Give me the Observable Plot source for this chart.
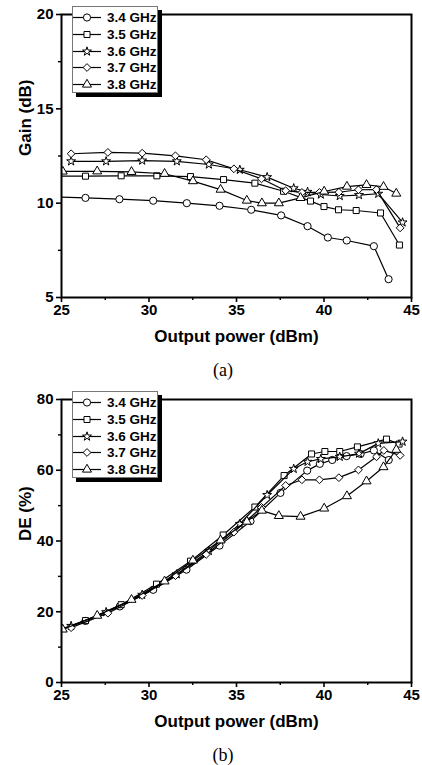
<!DOCTYPE html>
<html><head><meta charset="utf-8">
<script src="https://cdn.jsdelivr.net/npm/d3@7"></script>
<script src="https://cdn.jsdelivr.net/npm/@observablehq/plot@0.6"></script>
<style>
body{margin:0;background:#fff;}
#wrap{position:relative;width:422px;height:765px;font-family:"Liberation Sans",Arial,sans-serif;}
.panel{position:absolute;left:0;}
.panel text{font-family:"Liberation Sans",Arial,sans-serif;font-weight:bold;}
.cap{position:absolute;width:446px;left:0;text-align:center;font-family:"Liberation Serif","Times New Roman",serif;font-size:18px;line-height:20px;}
.legend{position:absolute;background:#fff;border:1px solid #777;box-shadow:4px 4px 0 #000;box-sizing:border-box;}
.legend .row{position:absolute;left:0;height:17px;display:flex;align-items:center;white-space:nowrap;}
.legend span{font-weight:bold;font-size:13.5px;margin-left:5px;font-family:"Liberation Sans",Arial,sans-serif;}
</style></head><body><div id="wrap"></div>
<script>
// ---------- data ----------
const seriesNames = ["3.4 GHz", "3.5 GHz", "3.6 GHz", "3.7 GHz", "3.8 GHz"];
const xTicks = [25, 30, 35, 40, 45];
const xMinor = [27.5, 32.5, 37.5, 42.5];
const gainTicks = [5, 10, 15, 20];
const gainMinor = [7.5, 12.5, 17.5];
const deTicks = [0, 20, 40, 60, 80];
const deMinor = [10, 30, 50, 70];

// (a) Gain (dB) vs output power (dBm)
const g34x = [24.6, 26.37, 28.31, 30.24, 32.16, 34.03, 35.84, 37.55, 39.06, 40.22, 41.30, 42.85, 43.69];
const g34y = [10.33, 10.28, 10.21, 10.13, 10.0, 9.86, 9.65, 9.35, 8.78, 8.18, 8.02, 7.72, 5.97];
const g35x = [24.6, 26.37, 28.41, 30.45, 32.37, 34.26, 36.05, 37.69, 39.23, 40.0, 40.83, 41.84, 43.23, 44.31];
const g35y = [11.43, 11.43, 11.45, 11.45, 11.41, 11.25, 11.06, 10.63, 10.11, 9.82, 9.65, 9.61, 9.48, 7.78];
const g36x = [25.55, 27.55, 29.61, 31.59, 33.42, 35.19, 36.75, 38.27, 39.06, 39.82, 40.90, 42.0, 43.10, 44.49];
const g36y = [12.22, 12.22, 12.26, 12.22, 12.05, 11.77, 11.38, 10.79, 10.60, 10.46, 10.38, 10.43, 10.50, 8.98];
const g37x = [25.55, 27.65, 29.61, 31.51, 33.27, 34.85, 36.43, 37.81, 38.74, 39.74, 40.85, 41.97, 43.0, 44.35];
const g37y = [12.62, 12.69, 12.65, 12.51, 12.30, 11.82, 11.29, 10.66, 10.57, 10.57, 10.58, 10.71, 10.72, 8.69];
const g38x = [25.07, 27.04, 29.0, 30.89, 32.51, 34.09, 35.59, 36.45, 37.42, 38.66, 40.01, 41.31, 42.43, 43.40, 44.13];
const g38y = [11.68, 11.69, 11.66, 11.56, 11.17, 10.72, 10.14, 10.0, 10.0, 10.28, 10.62, 10.88, 10.97, 10.87, 10.51];

// (b) DE (%) vs output power (dBm)
const d34x = [24.6, 26.37, 28.33, 30.24, 32.14, 34.03, 35.8, 37.51, 39.04, 39.76, 40.47, 41.29, 42.09, 42.85, 43.70];
const d34y = [14.3, 17.4, 21.5, 26.2, 31.9, 38.7, 45.6, 53.6, 59.9, 61.8, 62.9, 64.0, 64.6, 65.6, 62.9];
const d35x = [24.6, 26.37, 28.41, 30.43, 32.37, 34.24, 36.05, 37.72, 39.29, 40.05, 40.90, 41.91, 43.57, 44.29];
const d35y = [14.4, 17.5, 22.0, 27.8, 34.3, 41.7, 49.6, 58.5, 64.6, 65.3, 65.3, 66.6, 68.8, 67.4];
const d36x = [25.55, 27.55, 29.61, 31.59, 33.42, 35.19, 36.75, 38.27, 39.06, 39.82, 40.90, 42.0, 43.10, 44.49];
const d36y = [16.0, 19.9, 24.8, 30.6, 37.2, 44.8, 53.0, 60.4, 62.4, 63.2, 63.8, 64.7, 67.6, 68.1];
const d37x = [25.55, 27.65, 29.61, 31.51, 33.27, 34.85, 36.43, 37.81, 38.74, 39.74, 40.85, 41.97, 43.0, 43.42, 44.35];
const d37y = [15.5, 19.6, 24.6, 30.2, 36.2, 42.5, 49.5, 55.7, 57.3, 57.3, 57.9, 60.1, 63.8, 65.6, 64.2];
const d38x = [25.07, 27.04, 29.0, 30.89, 32.51, 34.09, 35.59, 36.45, 37.42, 38.66, 40.01, 41.31, 42.43, 43.40, 44.13];
const d38y = [15.0, 18.9, 23.4, 28.6, 34.5, 40.2, 45.5, 48.6, 47.1, 46.9, 49.2, 52.7, 56.9, 60.9, 65.8];

// ---------- styling ----------
const symbols = ["circle", "square", "star", "diamond2", "triangle"];
const d3symbols = [d3.symbolCircle, d3.symbolSquare, d3.symbolStar, d3.symbolDiamond2, d3.symbolTriangle];
const radii = [3.6, 3.4, 2.8, 3.5, 3.35];

const wrap = document.getElementById("wrap");

function zip(xs, ys) { return xs.map((v, i) => ({x: v, y: ys[i]})); }

function makePanel(top, xsList, ysList, yDomain, yTicks, yMinor, yLabel, caption) {
  const marks = [];
  xsList.forEach((xs, k) => {
    const data = zip(xs, ysList[k]);
    marks.push(Plot.line(data, {x: "x", y: "y", stroke: "#000", strokeWidth: 1.2, clip: true}));
    marks.push(Plot.dot(data, {x: "x", y: "y", symbol: symbols[k], r: radii[k], fill: "#fff", stroke: "#000", strokeWidth: 1, clip: true}));
  });
  marks.push(
    Plot.frame({stroke: "#000", strokeWidth: 2}),
    Plot.axisX({ticks: xTicks, tickSize: 5, tickPadding: 2, strokeWidth: 1.6, fontSize: 15, fontWeight: "bold", label: null}),
    Plot.axisX({ticks: xMinor, tickSize: 3, strokeWidth: 1.4, tickFormat: () => "", label: null}),
    Plot.axisY({ticks: yTicks, tickSize: 5, tickPadding: 3, strokeWidth: 1.6, fontSize: 15, fontWeight: "bold", label: null}),
    Plot.axisY({ticks: yMinor, tickSize: 3, strokeWidth: 1.4, tickFormat: () => "", label: null}),
    Plot.text(["Output power (dBm)"], {text: d => d, frameAnchor: "bottom", dy: 44, fontSize: 17, fontWeight: "bold"}),
    Plot.text([yLabel], {text: d => d, frameAnchor: "left", dx: -36, rotate: -90, fontSize: 17, fontWeight: "bold"})
  );
  const svg = Plot.plot({
    width: 422, height: 354,
    marginLeft: 61, marginRight: 11, marginTop: 14, marginBottom: 57,
    style: {fontFamily: '"Liberation Sans", Arial, sans-serif', background: "transparent", color: "#000"},
    x: {domain: [25, 45]},
    y: {domain: yDomain},
    marks
  });
  svg.classList.add("panel");
  svg.style.top = top + "px";
  wrap.appendChild(svg);

  // legend
  const lg = document.createElement("div");
  lg.className = "legend";
  lg.style.left = "72px"; lg.style.top = (top + 6) + "px";
  lg.style.width = "86px"; lg.style.height = "87px";
  seriesNames.forEach((name, k) => {
    const row = document.createElement("div");
    row.className = "row";
    row.style.top = (2 + k * 16.8) + "px";
    const s = d3.create("svg").attr("width", 29).attr("height", 17);
    s.append("line").attr("x1", 0).attr("x2", 28).attr("y1", 8.5).attr("y2", 8.5).attr("stroke", "#000").attr("stroke-width", 1.2);
    s.append("path").attr("transform", "translate(14,8.5)")
      .attr("d", d3.symbol(d3symbols[k], Math.PI * radii[k] * radii[k])())
      .attr("fill", "#fff").attr("stroke", "#000");
    row.appendChild(s.node());
    const t = document.createElement("span");
    t.textContent = name;
    row.appendChild(t);
    lg.appendChild(row);
  });
  wrap.appendChild(lg);

  const cap = document.createElement("div");
  cap.className = "cap";
  cap.style.top = (top + 360) + "px";
  cap.textContent = caption;
  wrap.appendChild(cap);
}

makePanel(0, [g34x, g35x, g36x, g37x, g38x], [g34y, g35y, g36y, g37y, g38y], [5, 20], gainTicks, gainMinor, "Gain (dB)", "(a)");
makePanel(385, [d34x, d35x, d36x, d37x, d38x], [d34y, d35y, d36y, d37y, d38y], [0, 80], deTicks, deMinor, "DE (%)", "(b)");
</script>
</body></html>
